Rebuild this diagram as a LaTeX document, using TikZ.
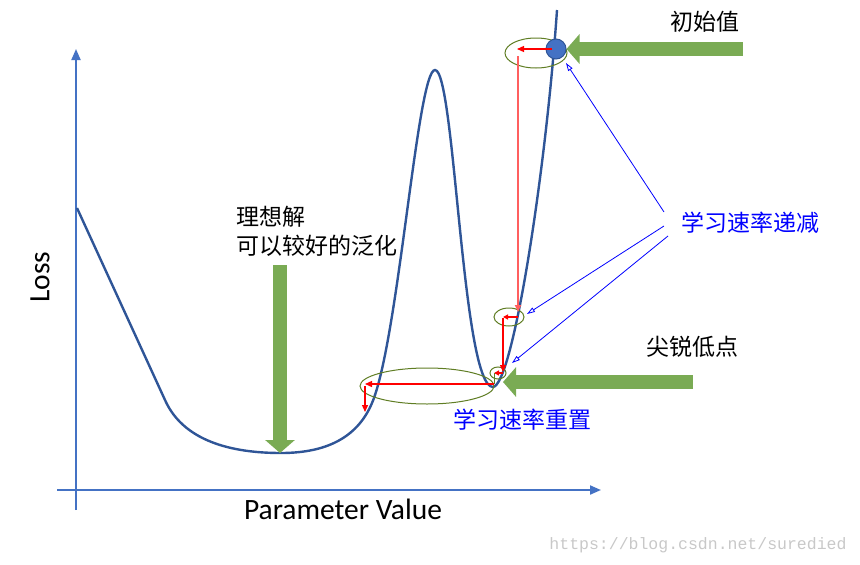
\documentclass[tikz,border=0pt]{standalone}
\usepackage{fontspec}
\setmainfont{Carlito}
\newfontfamily\cjk{Noto Sans CJK SC}
\newfontfamily\wmfont{Liberation Mono}
\usetikzlibrary{arrows.meta}
\definecolor{axisblue}{RGB}{68,114,196}
\definecolor{curveblue}{RGB}{47,85,151}
\definecolor{leafgreen}{RGB}{122,171,84}
\definecolor{ringgreen}{RGB}{95,125,35}
\definecolor{palered}{RGB}{255,95,95}
\definecolor{markgray}{RGB}{200,200,200}
\begin{document}
\begin{tikzpicture}[x=1pt,y=-1pt,
    axis/.style={draw=axisblue,line width=2pt,-{Triangle[length=11pt,width=9pt]}},
    curve/.style={draw=curveblue,line width=2.4pt},
    cjk label/.style={inner sep=0pt,font=\cjk\fontsize{23}{29}\selectfont},
    blue label/.style={cjk label,text=blue},
    axis label/.style={inner sep=0pt,font=\fontsize{29.5}{34}\selectfont},
    ball/.style={circle,fill=axisblue,draw=curveblue,line width=1pt,minimum size=20pt,inner sep=0pt},
    big arrow/.style={leafgreen,line width=14pt,-{Triangle[length=13pt,width=29pt]}},
    stair arrow/.style={red,line width=1.3pt,-{Triangle[length=7pt,width=6pt]}},
    short arrow/.style={red,line width=1.2pt,-{Triangle[length=5pt,width=5pt]}},
    decay arrow/.style={blue,line width=0.8pt,-{Triangle[open,length=8pt,width=5pt]}},
    ring/.style={draw=ringgreen,line width=1pt}]
    \useasboundingbox (0, 0) rectangle (860, 565);

    \draw[axis] (57, 490) -- (601, 490);
    \draw[axis] (76, 510) -- (76, 49);

    \draw[curve] (77, 208) -- (165, 400) .. controls (185, 445) and (240, 453) .. (281, 453)
        .. controls (330, 453) and (362, 435) .. (375, 395)
        .. controls (400, 320) and (418, 70) .. (435, 70)
        .. controls (455, 70) and (462, 387) .. (493, 387)
        .. controls (513, 385) and (546, 170) .. (557, 10);

    \draw[ring] (536, 53) ellipse [x radius=31pt, y radius=15pt];
    \draw[ring] (509, 317) ellipse [x radius=15pt, y radius=9pt];
    \draw[ring] (498, 373) ellipse [x radius=8pt, y radius=6pt];
    \draw[ring] (427, 386) ellipse [x radius=67pt, y radius=18pt];

    \node[ball] at (556, 49) (init) {};

    \node[cjk label] at (705, 22) (init label) {初始值};
    \node[blue label] at (750, 223) (decay) {学习速率递减};
    \node[cjk label] at (692, 347) (sharp) {尖锐低点};
    \node[blue label] at (522, 420) (reset) {学习速率重置};
    \node[cjk label,align=left,anchor=north west] at (236, 206) (ideal) {理想解\\可以较好的泛化};
    \node[axis label,rotate=90] at (40, 277) (loss) {Loss};
    \node[axis label] at (343, 509) (param) {Parameter Value};
    \node[inner sep=0pt,text=markgray,font=\wmfont\fontsize{16.5}{20}\selectfont] at (698, 545) (mark) {https://blog.csdn.net/suredied};

    \coordinate (init from) at (743, 49);
    \coordinate (sharp from) at (693, 382);
    \coordinate (sharp pt) at (503, 382);
    \coordinate (ideal from) at (280, 265);
    \coordinate (ideal pt) at (280, 453);

    \coordinate (s0) at (552, 49);
    \coordinate (s1) at (517, 49);
    \coordinate (s2) at (518, 56);
    \coordinate (s3) at (518, 312);
    \coordinate (s4) at (518, 317);
    \coordinate (s5) at (503, 317);
    \coordinate (s6) at (503, 318);
    \coordinate (s7) at (503, 372);
    \coordinate (s8) at (503, 373);
    \coordinate (s9) at (494, 373);
    \coordinate (s10) at (494, 384);
    \coordinate (s11) at (365, 384);
    \coordinate (s12) at (365, 386);
    \coordinate (s13) at (365, 412);

    \coordinate (d1) at (664, 212);
    \coordinate (d2) at (664, 226);
    \coordinate (d3) at (668, 236);
    \coordinate (t1) at (566, 63);
    \coordinate (t2) at (527, 314);
    \coordinate (t3) at (512, 363);

    \path
        (init from) edge[big arrow] (init)
        (sharp from) edge[big arrow] (sharp pt)
        (ideal from) edge[big arrow] (ideal pt)
        (s0) edge[stair arrow] (s1)
        (s2) edge[stair arrow,palered,line width=1.8pt] (s3)
        (s4) edge[short arrow] (s5)
        (s6) edge[stair arrow] (s7)
        (s8) edge[short arrow] (s9)
        (s9) edge[ringgreen,line width=1pt] (s10)
        (s10) edge[stair arrow] (s11)
        (s12) edge[stair arrow] (s13)
        (d1) edge[decay arrow] (t1)
        (d2) edge[decay arrow] (t2)
        (d3) edge[decay arrow] (t3)
        ;
\end{tikzpicture}
\end{document}
